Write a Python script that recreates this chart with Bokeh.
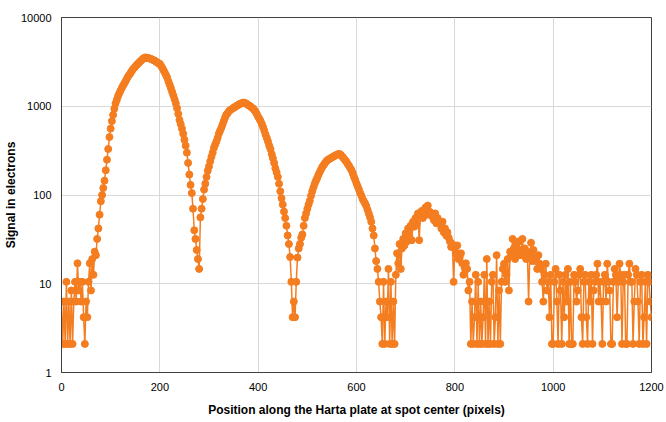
from bokeh.plotting import figure
from bokeh.models import ColumnDataSource, FixedTicker, NumeralTickFormatter, Range1d
from bokeh.embed import file_html
from bokeh.resources import INLINE

# Signal in electrons, one sample every 2.5 pixels (0 .. 1200)
signal = [
    6.3, 2.1, 6.3, 2.1, 10.5, 2.1, 6.3, 2.1, 8.4, 2.1, 6.3, 10.5, 6.3, 17, 8.4, 10.5, 6.3, 10.5, 4.2, 2.1,
    6.3, 4.2, 10.5, 17, 8.4, 19, 12.6, 23, 21, 32, 42, 60, 85, 100, 120, 145, 190, 250, 330, 450,
    560, 680, 800, 940, 1080, 1180, 1300, 1400, 1500, 1600, 1700, 1800, 1900, 2020, 2150, 2250, 2350, 2480, 2600, 2700,
    2800, 2900, 3000, 3100, 3200, 3300, 3400, 3480, 3550, 3520, 3500, 3480, 3450, 3400, 3350, 3300, 3250, 3180, 3100, 3050,
    3000, 2850, 2700, 2550, 2400, 2250, 2100, 1900, 1750, 1600, 1450, 1320, 1200, 1080, 950, 820, 700, 630, 560, 490,
    420, 360, 300, 230, 170, 130, 105, 70, 40, 32, 24, 19, 14.7, 56, 70, 90, 115, 134, 160, 188,
    210, 240, 270, 300, 340, 370, 400, 440, 490, 530, 570, 620, 680, 740, 800, 830, 870, 900, 920, 940,
    960, 980, 1000, 1020, 1040, 1060, 1070, 1090, 1100, 1090, 1080, 1050, 1030, 1010, 990, 960, 940, 900, 860, 810,
    760, 720, 680, 630, 580, 530, 480, 440, 400, 360, 330, 290, 260, 230, 200, 180, 160, 134, 110, 92,
    78, 65, 55, 45, 35, 28, 20, 10.5, 4.2, 6.3, 4.2, 10.5, 19.7, 25, 28, 33, 36, 45, 55, 62,
    70, 78, 86, 98, 110, 122, 134, 145, 155, 168, 180, 192, 205, 215, 225, 235, 245, 250, 255, 260,
    265, 270, 275, 280, 285, 288, 290, 285, 275, 265, 255, 245, 235, 222, 212, 200, 190, 175, 160, 148,
    135, 125, 115, 105, 98, 90, 85, 80, 75, 68, 62, 56, 50, 42, 35, 25, 18, 14.7, 10.5, 6.3,
    4.2, 2.1, 10.5, 2.1, 6.3, 4.2, 14.7, 2.1, 10.5, 2.1, 6.3, 2.1, 12.6, 22, 17, 28, 14.7, 25, 32, 27,
    37, 30, 42, 35, 45, 31, 50, 44, 55, 48, 62, 31, 60, 66, 55, 62, 72, 60, 76, 65,
    64, 58, 60, 52, 62, 48, 55, 50, 47, 42, 50, 38, 42, 35, 38, 33, 30, 26, 28, 10.5,
    25, 22, 27, 19, 20, 22, 17, 12.6, 15, 17, 14.7, 8.4, 10.5, 2.1, 6.3, 2.1, 4.2, 12.6, 2.1, 10.5,
    2.1, 6.3, 2.1, 4.2, 12.6, 2.1, 19, 2.1, 6.3, 2.1, 10.5, 12.6, 2.1, 4.2, 21, 2.1, 8.4, 2.1, 10.5, 14.7,
    16.8, 10.5, 12.6, 19, 8.4, 23, 21, 32, 25, 19, 27, 23, 30, 21, 24, 32, 21, 25, 19, 23,
    6.3, 21, 29, 18, 24, 19, 18, 14.7, 21, 16.8, 14.7, 10.5, 6.3, 12.6, 16.8, 8.4, 10.5, 4.2, 12.6, 2.1,
    2.1, 10.5, 14.7, 6.3, 2.1, 12.6, 8.4, 2.1, 10.5, 4.2, 12.6, 6.3, 14.7, 2.1, 10.5, 2.1, 2.1, 12.6, 10.5, 6.3,
    8.4, 12.6, 14.7, 4.2, 2.1, 10.5, 12.6, 4.2, 2.1, 10.5, 6.3, 12.6, 2.1, 8.4, 10.5, 12.6, 16.8, 6.3, 10.5, 6.3,
    2.1, 10.5, 12.6, 6.3, 16.8, 10.5, 8.4, 2.1, 2.1, 10.5, 14.7, 12.6, 4.2, 10.5, 16.8, 12.6, 2.1, 10.5, 12.6, 2.1,
    2.1, 12.6, 16.8, 10.5, 10.5, 2.1, 6.3, 14.7, 12.6, 6.3, 2.1, 10.5, 12.6, 2.1, 4.2, 10.5, 2.1, 12.6, 10.5, 6.3,
    4.2,
]

# Position along the plate (pixels) of each sample
positions = [i * 2.5 for i in range(len(signal))]

x_ticks = [0, 200, 400, 600, 800, 1000, 1200]
y_ticks = [1, 10, 100, 1000, 10000]

ORANGE = "#F47D20"
FONT = "Liberation Sans"

src = ColumnDataSource(data=dict(x=positions, y=signal))

p = figure(width=666, height=422, output_backend="svg", toolbar_location=None,
           y_axis_type="log",
           x_range=Range1d(0, 1200), y_range=Range1d(1, 10000),
           min_border_left=10, min_border_right=15,
           min_border_top=17, min_border_bottom=50)

p.line("x", "y", source=src, line_color=ORANGE, line_width=1.5)
p.scatter("x", "y", source=src, size=7, fill_color=ORANGE, line_color=ORANGE)

p.xaxis.ticker = FixedTicker(ticks=x_ticks)
p.yaxis.ticker = FixedTicker(ticks=y_ticks, minor_ticks=[])
p.yaxis.formatter = NumeralTickFormatter(format="0")

for ax in (p.xaxis, p.yaxis):
    ax.major_tick_line_color = None
    ax.minor_tick_line_color = None
    ax.axis_line_color = "#404040"
    ax.major_label_text_font = FONT
    ax.major_label_text_font_size = "11px"
    ax.major_label_text_color = "#000000"
    ax.axis_label_text_font = FONT
    ax.axis_label_text_font_size = "12px"
    ax.axis_label_text_font_style = "bold"
    ax.axis_label_text_color = "#000000"

p.xaxis.axis_label = "Position along the Harta plate at spot center (pixels)"
p.yaxis.axis_label = "Signal in electrons"
p.xaxis.major_label_standoff = 4
p.yaxis.major_label_standoff = 4
p.xaxis.axis_label_standoff = 9
p.yaxis.axis_label_standoff = 0

p.xgrid.grid_line_color = "#D9D9D9"
p.ygrid.grid_line_color = "#D9D9D9"
p.outline_line_color = "#404040"
p.outline_line_width = 1

open("out.html", "w").write(file_html(p, INLINE))
